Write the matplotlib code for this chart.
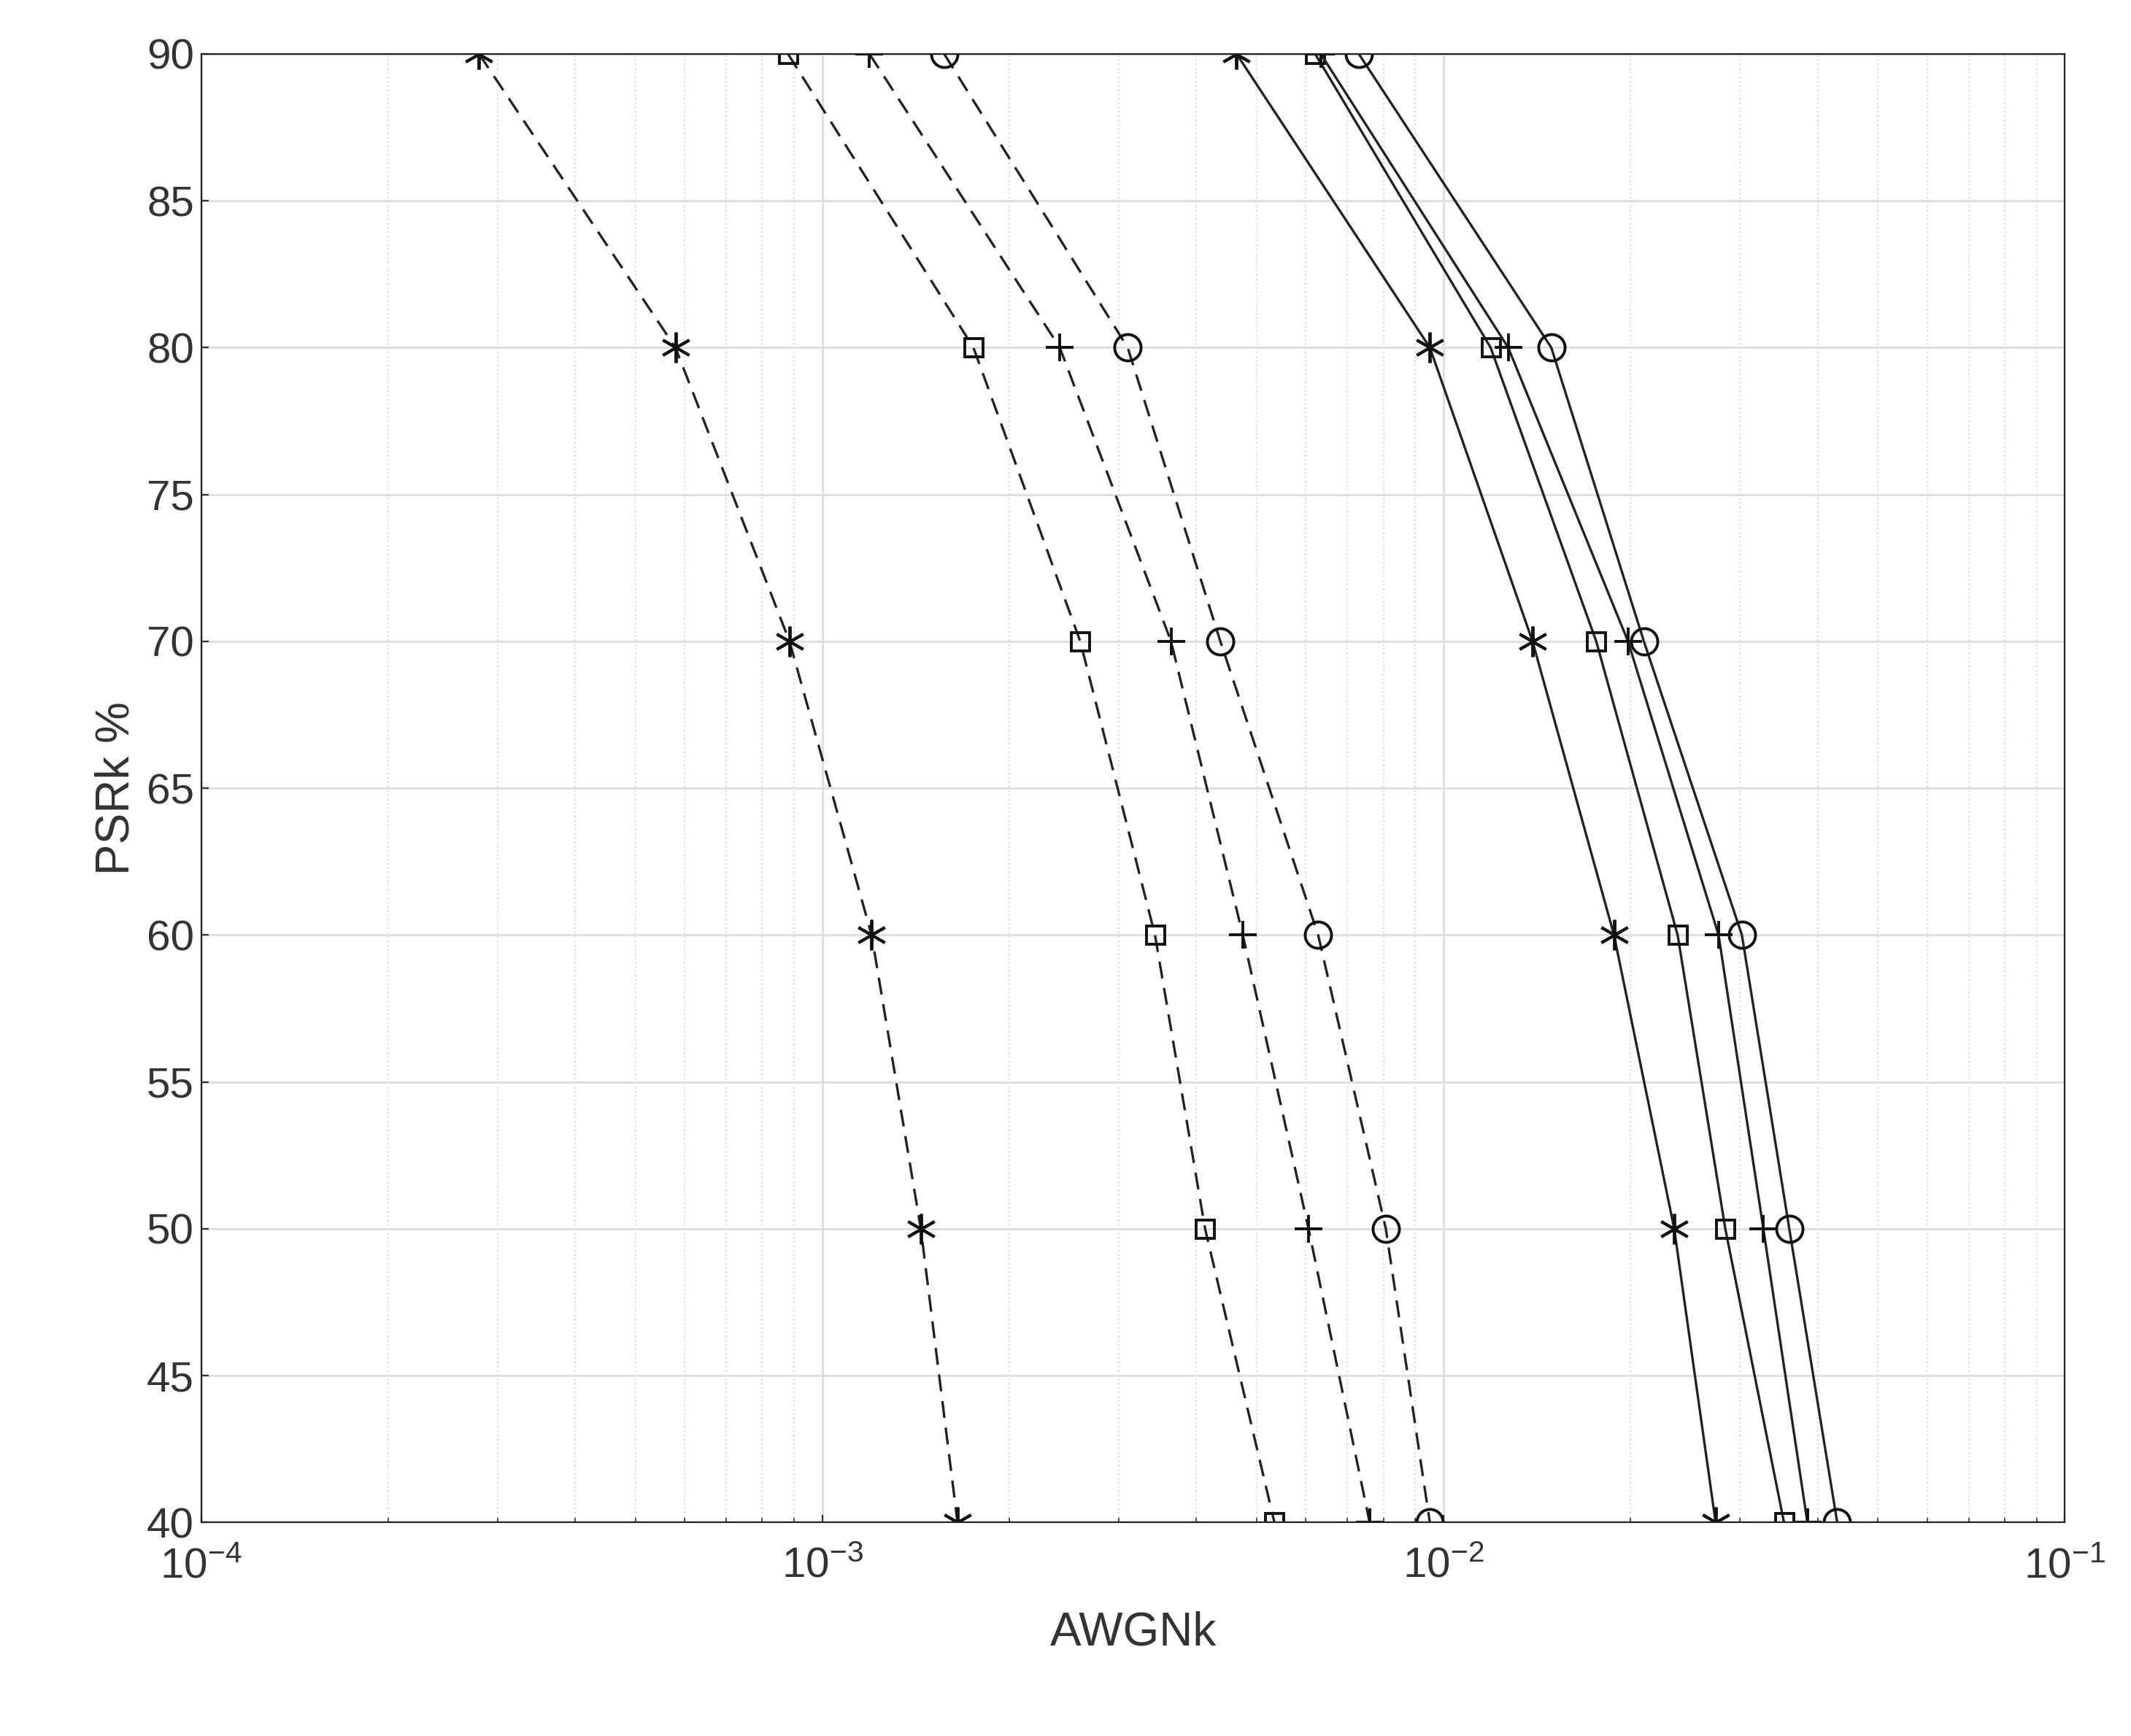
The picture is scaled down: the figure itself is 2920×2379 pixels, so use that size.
import matplotlib
matplotlib.use("Agg")
import matplotlib.pyplot as plt
from matplotlib.ticker import LogLocator, NullFormatter

plt.rcParams['font.family'] = ['Liberation Sans', 'DejaVu Sans']
plt.rcParams['mathtext.fontset'] = 'custom'
plt.rcParams['mathtext.rm'] = 'Liberation Sans'

psr = [90, 80, 70, 60, 50, 40]
dash_star = [2.8e-4, 5.8e-4, 8.85e-4, 1.2e-3, 1.44e-3, 1.65e-3]
dash_square = [8.8e-4, 1.75e-3, 2.6e-3, 3.43e-3, 4.13e-3, 5.34e-3]
dash_plus = [1.19e-3, 2.41e-3, 3.64e-3, 4.75e-3, 6.06e-3, 7.6e-3]
dash_circle = [1.57e-3, 3.1e-3, 4.37e-3, 6.28e-3, 8.07e-3, 9.5e-3]
solid_star = [4.64e-3, 9.5e-3, 1.39e-2, 1.88e-2, 2.35e-2, 2.74e-2]
solid_square = [6.21e-3, 1.19e-2, 1.76e-2, 2.38e-2, 2.84e-2, 3.53e-2]
solid_plus = [6.34e-3, 1.27e-2, 1.98e-2, 2.77e-2, 3.27e-2, 3.85e-2]
solid_circle = [7.3e-3, 1.49e-2, 2.1e-2, 3.02e-2, 3.6e-2, 4.3e-2]

fig = plt.figure(figsize=(14.6, 11.895), dpi=200)
ax = fig.add_axes([0.0944, 0.123, 0.8746, 0.846])

asterisk = (6, 2, 0)
series = [(dash_star, asterisk, '--'), (dash_square, 's', '--'), (dash_plus, '+', '--'), (dash_circle, 'o', '--'),
          (solid_star, asterisk, '-'), (solid_square, 's', '-'), (solid_plus, '+', '-'), (solid_circle, 'o', '-')]
for vals, m, ls in series:
    ms = {'o': 13, '+': 14, 's': 9}.get(m, 15) if isinstance(m, str) else 15
    kw = dict(dashes=(7, 4)) if ls == '--' else {}
    ax.plot(vals, psr, linestyle=ls, color='#222222', lw=1.2, marker=m, ms=ms,
            mfc='none', mec='#111111', mew=1.4, **kw)

ax.set_xscale('log')
ax.set_xlim(1e-4, 1e-1)
ax.set_ylim(40, 90)
ax.set_yticks(range(40, 91, 5))
ax.xaxis.set_minor_locator(LogLocator(base=10, subs=range(2, 10)))
ax.xaxis.set_minor_formatter(NullFormatter())
ax.grid(True, which='major', color='#dddddd', lw=1)
ax.grid(True, which='minor', axis='x', color='#dddddd', lw=0.8, ls=':')
ax.tick_params(labelsize=21, colors='#333333', direction='in', which='both')
ax.tick_params(axis='x', pad=12)
ax.set_xlabel('AWGNk', fontsize=23, color='#333333', labelpad=12)
ax.set_ylabel('PSRk %', fontsize=23, color='#333333')
for s in ax.spines.values():
    s.set_color('#222222')
fig.savefig('out.png')
